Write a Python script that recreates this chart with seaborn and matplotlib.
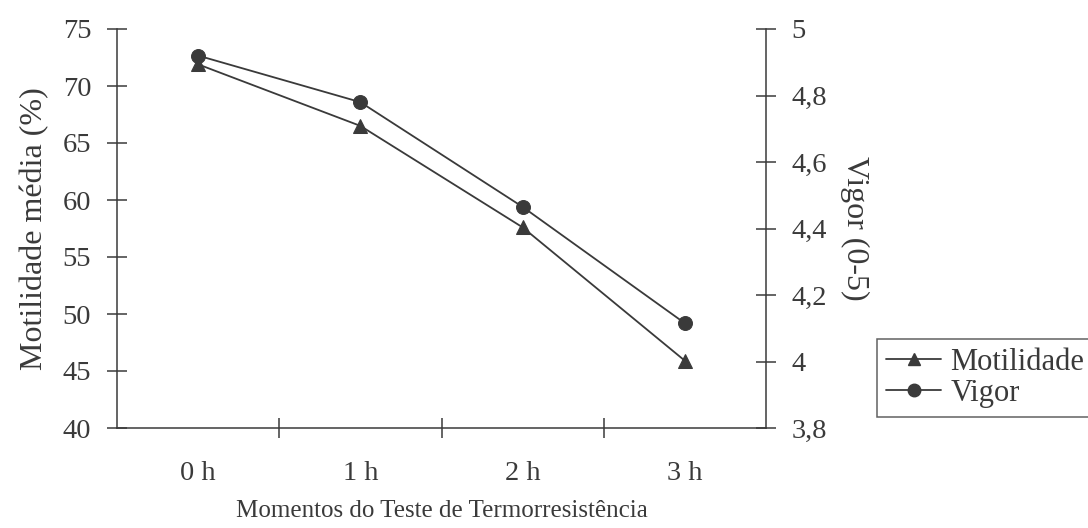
import matplotlib
matplotlib.use('Agg')
import matplotlib.pyplot as plt
import seaborn as sns
import pandas as pd
from matplotlib.lines import Line2D
from matplotlib.ticker import FixedLocator

# Data
momentos = ['0 h', '1 h', '2 h', '3 h']
motilidade = [71.9, 66.5, 57.6, 45.9]
vigor = [4.92, 4.78, 4.465, 4.115]

df = pd.DataFrame({'Momento': momentos, 'Motilidade': motilidade, 'Vigor': vigor})

sns.set_theme(style='white')
plt.rcParams['font.family'] = ['Liberation Serif', 'DejaVu Serif']
ink = '#3a3a3a'
plt.rcParams['text.color'] = ink
plt.rcParams['axes.labelcolor'] = ink
plt.rcParams['xtick.color'] = ink
plt.rcParams['ytick.color'] = ink

fig = plt.figure(figsize=(10.88, 5.28), dpi=100)
ax = fig.add_axes([117 / 1088, 1 - 428 / 528, (766 - 117) / 1088, (428 - 29) / 528])
ax2 = ax.twinx()

sns.lineplot(data=df, x='Momento', y='Motilidade', ax=ax, color=ink, marker='^',
             markersize=10, linewidth=1.3, markeredgecolor=ink)
sns.lineplot(data=df, x='Momento', y='Vigor', ax=ax2, color=ink, marker='o',
             markersize=10, linewidth=1.3, markeredgecolor=ink)

ax.set_xlim(-0.5, 3.5)
ax.set_ylim(40, 75)
ax2.set_ylim(3.8, 5.0)
ax.set_yticks(range(40, 80, 5))
ax2.set_yticks([3.8, 4.0, 4.2, 4.4, 4.6, 4.8, 5.0])
ax2.set_yticklabels(['3,8', '4', '4,2', '4,4', '4,6', '4,8', '5'])

ax.set_xticks(range(len(momentos)))
ax.set_xticklabels(momentos)
ax.xaxis.set_minor_locator(FixedLocator([0.5, 1.5, 2.5]))

ax.tick_params(axis='x', which='major', length=0, labelsize=20.5, pad=24)
ax.tick_params(axis='x', which='minor', direction='inout', length=15, width=1.1, bottom=True)
ax.tick_params(axis='y', direction='inout', length=15, width=1.1, labelsize=20.5, pad=11, left=True)
ax2.tick_params(axis='y', direction='inout', length=15, width=1.1, labelsize=20.5, pad=11, right=True)

for a in (ax, ax2):
    a.spines['top'].set_visible(False)
    for s in ('left', 'right', 'bottom'):
        a.spines[s].set_color(ink)
        a.spines[s].set_linewidth(1.1)
ax.spines['right'].set_visible(False)
ax2.spines['left'].set_visible(False)
ax2.spines['bottom'].set_visible(False)

ax.set_xlabel('Momentos do Teste de Termorresistência', fontsize=18, labelpad=10)
ax.set_ylabel('Motilidade média (%)', fontsize=23, labelpad=10)
ax2.set_ylabel('Vigor (0-5)', fontsize=23, rotation=270, labelpad=30)

handles = [
    Line2D([], [], color=ink, marker='^', markersize=9, linewidth=1.3, label='Motilidade'),
    Line2D([], [], color=ink, marker='o', markersize=9, linewidth=1.3, label='Vigor'),
]
leg = fig.legend(handles=handles, loc='upper left', bbox_to_anchor=(877 / 1088, 1 - 339 / 528),
                 fontsize=22, frameon=True, fancybox=False, handlelength=1.8,
                 handletextpad=0.3, borderpad=0.3, labelspacing=0.05, borderaxespad=0)
leg.get_frame().set_edgecolor(ink)
leg.get_frame().set_linewidth(1.1)

fig.savefig('out.png', dpi=100)
